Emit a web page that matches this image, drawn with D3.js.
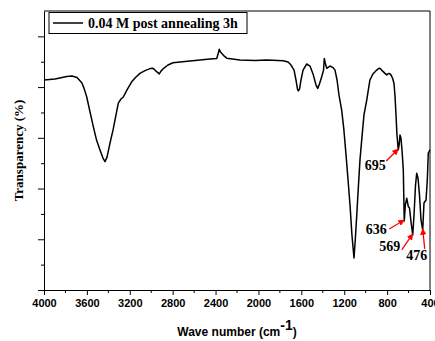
<!DOCTYPE html>
<html>
<head>
<meta charset="utf-8">
<script src="https://cdn.jsdelivr.net/npm/d3@7"></script>
<style>
  body { margin: 0; background: #fff; }
  svg { display: block; }
</style>
</head>
<body>
<div id="chart"></div>
<script>
// wavenumber (cm-1) and transparency readings
var waveNumbers = [4000, 3897, 3788, 3739, 3692, 3648, 3627, 3602, 3571, 3540, 3510, 3478, 3450, 3431, 3412,
    3384, 3356, 3338, 3307, 3282, 3260, 3226, 3182, 3142, 3105, 3058, 3011, 2983, 2955, 2925, 2909, 2881,
    2844, 2797, 2685, 2545, 2452, 2389, 2377, 2365, 2354, 2343, 2321, 2296, 2172, 2032, 1923, 1768, 1724,
    1696, 1668, 1650, 1636, 1628, 1617, 1603, 1584, 1550, 1519, 1491, 1463, 1447, 1431, 1410, 1393, 1386,
    1377, 1363, 1347, 1333, 1305, 1286, 1267, 1249, 1224, 1203, 1183, 1162, 1146, 1128, 1109, 1097, 1084,
    1067, 1053, 1037, 1016, 990, 978, 960, 932, 897, 880, 866, 852, 836, 820, 804, 792, 780, 764, 750, 736,
    727, 717, 708, 696, 688, 680, 671, 661, 649, 640, 630, 617, 602, 591, 577, 561, 549, 535, 524, 512,
    498, 484, 468, 456, 437, 425, 416, 400];
var transparency = [8.28, 8.32, 8.42, 8.44, 8.38, 8.17, 7.96, 7.62, 7.02, 6.44, 5.91, 5.52, 5.20, 5.06, 5.24,
    5.80, 6.31, 6.70, 7.37, 7.53, 7.61, 7.89, 8.21, 8.40, 8.54, 8.65, 8.73, 8.74, 8.63, 8.52, 8.63, 8.75,
    8.87, 8.96, 9.01, 9.07, 9.11, 9.13, 9.30, 9.49, 9.38, 9.33, 9.23, 9.14, 9.07, 9.05, 9.07, 9.04, 8.99,
    8.87, 8.67, 8.28, 7.92, 7.85, 7.92, 8.28, 8.67, 8.91, 8.83, 8.52, 8.08, 7.95, 8.12, 8.41, 8.67, 9.13,
    8.95, 8.74, 8.79, 8.83, 8.77, 8.67, 8.28, 7.69, 7.10, 6.31, 5.32, 4.22, 3.35, 2.17, 1.26, 1.97, 2.89,
    4.14, 5.13, 5.91, 6.90, 7.49, 7.81, 8.28, 8.52, 8.67, 8.73, 8.74, 8.67, 8.61, 8.54, 8.48, 8.52, 8.54,
    8.48, 8.36, 8.15, 7.69, 6.90, 6.11, 5.52, 5.72, 6.11, 5.99, 5.52, 4.73, 2.72, 3.35, 3.62, 3.28, 3.23,
    2.68, 2.17, 2.96, 4.14, 4.60, 4.42, 3.75, 2.76, 2.37, 3.43, 3.55, 4.34, 5.40, 5.52];

var xTicks = [4000, 3600, 3200, 2800, 2400, 2000, 1600, 1200, 800, 400];
var yTicks = [0, 1, 2, 3, 4, 5, 6, 7, 8, 9, 10];

// marked peaks: wavenumber, and where the label sits
var peakLabels = ["695", "636", "569", "476"];
var peakWaves = [696, 640, 561, 468];

var seriesName = "0.04 M post annealing 3h";

var svgWidth = 435;
var svgHeight = 341;
var margin = { top: 11, right: 5, bottom: 51, left: 44 };
var width = svgWidth - margin.left - margin.right;
var height = svgHeight - margin.top - margin.bottom;

var svg = d3.select("#chart")
    .append("svg")
    .attr("width", svgWidth)
    .attr("height", svgHeight);

var chartGroup = svg.append("g")
    .attr("transform", `translate(${margin.left}, ${margin.top})`);

var data = waveNumbers.map((w, i) => ({ w: w, t: transparency[i] }));

var xScale = d3.scaleLinear().domain([4000, 400]).range([0, width]);
var yScale = d3.scaleLinear().domain([0, 11]).range([height, 0]);

// x axis: majors labelled, minors between
var bottomAxis = d3.axisBottom(xScale)
    .tickValues(xTicks)
    .tickFormat(d3.format("d"))
    .tickSize(5)
    .tickSizeOuter(0)
    .tickPadding(4);
var xAxis = chartGroup.append("g")
    .attr("transform", `translate(0, ${height})`)
    .call(bottomAxis);
xAxis.selectAll("text")
    .style("font-family", "'Liberation Sans', Arial, sans-serif")
    .style("font-weight", "bold")
    .style("font-size", "11px")
    .attr("fill", "#000");

var minorX = d3.range(3800, 400, -400);
chartGroup.append("g").selectAll("line")
    .data(minorX)
    .enter()
    .append("line")
    .attr("x1", d => xScale(d))
    .attr("x2", d => xScale(d))
    .attr("y1", height)
    .attr("y2", height + 3)
    .attr("stroke", "#000");

// y axis: ticks only, no labels
var leftAxis = d3.axisLeft(yScale)
    .tickValues(yTicks)
    .tickSize(0)
    .tickSizeOuter(0)
    .tickFormat("");
var yAxis = chartGroup.append("g").call(leftAxis);
yAxis.selectAll(".tick line")
    .attr("x2", d => d % 2 === 0 ? -6 : -3)
    .attr("stroke", "#000");

// frame top and right
chartGroup.append("line")
    .attr("x1", 0).attr("x2", width)
    .attr("y1", 0).attr("y2", 0)
    .attr("stroke", "#000");
chartGroup.append("line")
    .attr("x1", width).attr("x2", width)
    .attr("y1", 0).attr("y2", height)
    .attr("stroke", "#000");
chartGroup.selectAll(".domain").attr("stroke", "#000");

// spectrum
var line = d3.line()
    .x(d => xScale(d.w))
    .y(d => yScale(d.t));

chartGroup.append("path")
    .datum(data)
    .attr("d", line)
    .attr("fill", "none")
    .attr("stroke", "#000")
    .attr("stroke-width", 1.5)
    .attr("stroke-linejoin", "round");

// arrow markers
svg.append("defs").append("marker")
    .attr("id", "arrow")
    .attr("viewBox", "0 0 10 10")
    .attr("refX", 9)
    .attr("refY", 5)
    .attr("markerWidth", 5)
    .attr("markerHeight", 5)
    .attr("orient", "auto")
    .append("path")
    .attr("d", "M0,0 L10,5 L0,10 z")
    .attr("fill", "red");

function tAt(w) {
    var i = waveNumbers.findIndex(v => v <= w);
    if (i <= 0) return transparency[0];
    var w0 = waveNumbers[i - 1], w1 = waveNumbers[i];
    var f = (w0 - w) / (w0 - w1);
    return transparency[i - 1] + f * (transparency[i] - transparency[i - 1]);
}

// label offsets relative to arrow tip: [textX, textY, tailX, tailY]
var labelOffsets = [
    [-23, 21, -12, 12],
    [-28, 14, -15, 9],
    [-23, 17, -11, 16],
    [-6, 31, 2, 20]
];

peakWaves.forEach(function(w, i) {
    var tx = xScale(w);
    var ty = yScale(tAt(w)) - 1;
    var o = labelOffsets[i];
    chartGroup.append("line")
        .attr("x1", tx + o[2])
        .attr("y1", ty + o[3])
        .attr("x2", tx)
        .attr("y2", ty)
        .attr("stroke", "red")
        .attr("stroke-width", 1.3)
        .attr("marker-end", "url(#arrow)");
    chartGroup.append("text")
        .attr("x", tx + o[0])
        .attr("y", ty + o[1])
        .attr("text-anchor", "middle")
        .style("font-family", "'Liberation Serif', 'Times New Roman', serif")
        .style("font-weight", "bold")
        .style("font-size", "14px")
        .text(peakLabels[i]);
});

// legend
var legend = chartGroup.append("g")
    .attr("transform", "translate(5, 1.5)");
legend.append("rect")
    .attr("width", 198)
    .attr("height", 21)
    .attr("fill", "#fff")
    .attr("stroke", "#000")
    .attr("stroke-width", 1);
legend.append("line")
    .attr("x1", 4).attr("x2", 34)
    .attr("y1", 10.5).attr("y2", 10.5)
    .attr("stroke", "#000")
    .attr("stroke-width", 1.5);
legend.append("text")
    .attr("x", 39)
    .attr("y", 15.5)
    .style("font-family", "'Liberation Serif', 'Times New Roman', serif")
    .style("font-weight", "bold")
    .style("font-size", "14px")
    .text(seriesName);

// axis titles
svg.append("text")
    .attr("transform", "rotate(-90)")
    .attr("x", -(margin.top + height / 2))
    .attr("y", 23)
    .attr("text-anchor", "middle")
    .style("font-family", "'Liberation Serif', 'Times New Roman', serif")
    .style("font-weight", "bold")
    .style("font-size", "13px")
    .text("Transparency (%)");

var xTitle = svg.append("text")
    .attr("x", margin.left + width / 2)
    .attr("y", 336)
    .attr("text-anchor", "middle")
    .style("font-family", "'Liberation Sans', Arial, sans-serif")
    .style("font-weight", "bold")
    .style("font-size", "12px");
xTitle.append("tspan").text("Wave number (cm");
xTitle.append("tspan").attr("dy", -6).style("font-size", "14px").text("-1");
xTitle.append("tspan").attr("dy", 6).text(")");
</script>
</body>
</html>
